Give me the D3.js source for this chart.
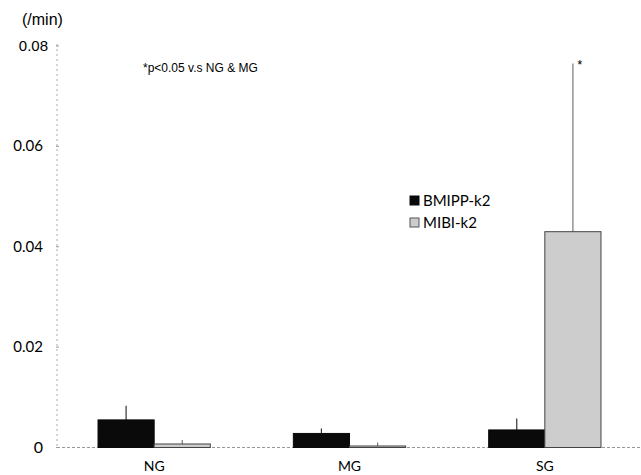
<!DOCTYPE html>
<html>
<head>
<meta charset="utf-8">
<script src="https://cdn.jsdelivr.net/npm/d3@7"></script>
<style>
  body { margin: 0; background: #fff; }
  svg { display: block; }
</style>
</head>
<body>
<div id="chart"></div>
<script>
// groups and series
const groups = ['NG', 'MG', 'SG'];
const series = ['BMIPP-k2', 'MIBI-k2'];
const bmippMean = [0.0055, 0.0028, 0.0035];
const bmippErr = [0.0028, 0.0010, 0.0023];
const mibiMean = [0.0007, 0.0003, 0.0430];
const mibiErr = [0.0008, 0.0007, 0.0335];
const yTicks = [0, 0.02, 0.04, 0.06, 0.08];

const width = 641, height = 475;
const margin = { top: 46, right: 0, bottom: 27, left: 57 };

const svg = d3.select('#chart').append('svg')
  .attr('width', width)
  .attr('height', height);

const x = d3.scaleBand()
  .domain(groups)
  .range([margin.left, width - margin.right + 1])
  .paddingInner(0.425)
  .paddingOuter(0.21);

const xSub = d3.scaleBand()
  .domain(series)
  .range([0, x.bandwidth()]);

const y = d3.scaleLinear()
  .domain([0, 0.08])
  .range([height - margin.bottom - 0.5, margin.top]);

const rows = groups.map((g, i) => ({
  group: g,
  vals: [
    { key: 'BMIPP-k2', mean: bmippMean[i], err: bmippErr[i] },
    { key: 'MIBI-k2', mean: mibiMean[i], err: mibiErr[i] }
  ]
}));

// y axis: dotted grey line with tiny ticks
svg.append('line')
  .attr('x1', margin.left).attr('x2', margin.left)
  .attr('y1', y(0.08) - 2).attr('y2', y(0))
  .attr('stroke', '#aaa')
  .attr('stroke-dasharray', '2,3');

svg.selectAll('.ytick')
  .data(yTicks)
  .join('line')
  .attr('class', 'ytick')
  .attr('x1', margin.left - 1).attr('x2', margin.left + 2)
  .attr('y1', d => y(d)).attr('y2', d => y(d))
  .attr('stroke', '#999');

svg.selectAll('.ylab')
  .data(yTicks)
  .join('text')
  .attr('class', 'ylab')
  .attr('x', d => d === 0.08 ? 48 : 43)
  .attr('y', d => y(d) + 5)
  .attr('text-anchor', 'end')
  .style('font-family', d => d === 0.08 ? 'Liberation Sans, Arial, sans-serif' : 'Lato, Open Sans, sans-serif')
  .style('font-size', d => d === 0 ? '16px' : '15px')
  .text(d => d === 0 ? '0' : d.toFixed(2));

// baseline
svg.append('line')
  .attr('x1', margin.left).attr('x2', width)
  .attr('y1', y(0)).attr('y2', y(0))
  .attr('stroke', '#999')
  .attr('stroke-dasharray', '3,2');

// bars
const grp = svg.selectAll('.grp')
  .data(rows)
  .join('g')
  .attr('class', 'grp')
  .attr('transform', d => 'translate(' + x(d.group) + ',0)');

// error bars (upper only)
grp.selectAll('.err')
  .data(d => d.vals)
  .join('line')
  .attr('class', 'err')
  .attr('x1', d => xSub(d.key) + xSub.bandwidth() / 2)
  .attr('x2', d => xSub(d.key) + xSub.bandwidth() / 2)
  .attr('y1', d => y(d.mean))
  .attr('y2', d => y(d.mean + d.err))
  .attr('stroke', d => d.key === 'BMIPP-k2' ? '#333' : '#777')
  .attr('stroke-width', 1.2);

grp.selectAll('.bar')
  .data(d => d.vals)
  .join('rect')
  .attr('class', 'bar')
  .attr('x', d => xSub(d.key))
  .attr('y', d => y(d.mean))
  .attr('width', xSub.bandwidth())
  .attr('height', d => y(0) - y(d.mean))
  .attr('fill', d => d.key === 'BMIPP-k2' ? '#0a0a0a' : '#cdcdcd')
  .attr('stroke', d => d.key === 'BMIPP-k2' ? '#0a0a0a' : '#444')
  .attr('stroke-width', 1);

// x labels
svg.selectAll('.xlab')
  .data(groups)
  .join('text')
  .attr('class', 'xlab')
  .attr('x', d => x(d) + x.bandwidth() / 2)
  .attr('y', 471)
  .attr('text-anchor', 'middle')
  .style('font-family', 'Lato, Open Sans, sans-serif')
  .style('font-size', '14px')
  .text(d => d);

// significance star on SG MIBI
svg.append('text')
  .attr('x', x('SG') + xSub('MIBI-k2') + xSub.bandwidth() / 2 + 7)
  .attr('y', y(mibiMean[2] + mibiErr[2]) + 5)
  .attr('text-anchor', 'middle')
  .style('font-family', 'Liberation Sans, Arial, sans-serif')
  .style('font-size', '13px')
  .text('*');

// unit label
svg.append('text')
  .attr('x', 22).attr('y', 25)
  .style('font-family', 'Liberation Sans, Arial, sans-serif')
  .style('font-size', '16px')
  .text('(/min)');

// note
svg.append('text')
  .attr('x', 143).attr('y', 72)
  .style('font-family', 'Liberation Sans, Arial, sans-serif')
  .style('font-size', '12px')
  .text('*p<0.05 v.s NG & MG');

// legend
const legend = svg.append('g')
  .attr('transform', 'translate(410,196)');

legend.selectAll('rect')
  .data(series)
  .join('rect')
  .attr('x', 0)
  .attr('y', (d, i) => i * 22)
  .attr('width', 9).attr('height', 9)
  .attr('fill', (d, i) => i === 0 ? '#0a0a0a' : '#cdcdcd')
  .attr('stroke', (d, i) => i === 0 ? '#0a0a0a' : '#555');

legend.selectAll('text')
  .data(series)
  .join('text')
  .attr('x', 13)
  .attr('y', (d, i) => i * 22 + 10)
  .style('font-family', 'Lato, Open Sans, sans-serif')
  .style('font-size', '15px')
  .text(d => d);
</script>
</body>
</html>
